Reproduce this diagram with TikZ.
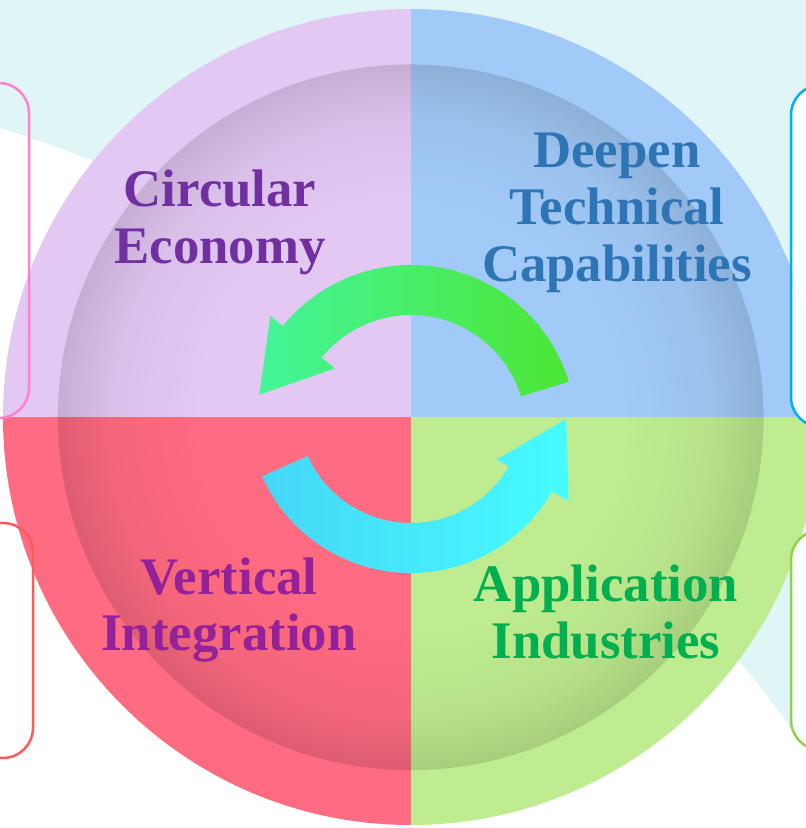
\documentclass[tikz,border=0pt]{standalone}
\usepackage{fontspec}
\setmainfont{Liberation Serif}
\usetikzlibrary{calc,fadings}
\definecolor{bgcyan}{HTML}{E0F5F5}
\definecolor{qpurple}{HTML}{E4C8F4}
\definecolor{qblue}{HTML}{A2CAF8}
\definecolor{qred}{HTML}{FF6B81}
\definecolor{qgreen}{HTML}{BFEC90}
\definecolor{tpurple}{HTML}{7030A0}
\definecolor{tblue}{HTML}{2E75B6}
\definecolor{tmagenta}{HTML}{93219A}
\definecolor{tgreen}{HTML}{00B050}
\definecolor{gL}{HTML}{44F59A}
\definecolor{gR}{HTML}{4CE636}
\definecolor{bL}{HTML}{46D6F8}
\definecolor{bR}{HTML}{46FCFF}
\definecolor{bxpink}{HTML}{FF80D0}
\definecolor{bxred}{HTML}{FF5A5A}
\definecolor{bxblue}{HTML}{00B0F0}
\definecolor{bxgreen}{HTML}{92D050}
\pgfdeclareradialshading{vigshade}{\pgfpointorigin}{color(0bp)=(black); color(15bp)=(black); color(21bp)=(black!96!white); color(25bp)=(black!87!white); color(50bp)=(black!87!white)}
\pgfdeclarefading{vignette}{\pgfuseshading{vigshade}}
\begin{document}
\begin{tikzpicture}[x=1bp,y=1bp,
  qtext/.style={font=\fontsize{53}{57}\selectfont\bfseries, align=center, inner sep=0pt},
  sidebox/.style={line width=2.5bp, rounded corners=30bp}]
\useasboundingbox (0,0) rectangle (806,828);
\clip (0,0) rectangle (806,828);
\fill[white] (0,0) rectangle (806,828);
\fill[bgcyan] (0,828) -- (806,828) -- (806,80) .. controls (560,420) and (260,620) .. (0,700) -- cycle;
\coordinate (C) at (411,411);
\begin{scope}
  \clip (C) circle[radius=408bp];
  \fill[qpurple] (C) rectangle (0,828);
  \fill[qblue] (C) rectangle (828,828);
  \fill[qred] (C) rectangle (0,0);
  \fill[qgreen] (C) rectangle (828,0);
\end{scope}
\fill[black, path fading=vignette] (C) circle[radius=353bp];
% green arrow
\coordinate (Cg) at (411,398);
\shade[left color=gL, right color=gR]
  ($(Cg)+(17:165)$) arc[start angle=17, end angle=141, radius=165bp]
  -- ($(Cg)+(141:181)$) -- ($(Cg)+(141:140)+(231:68)$) -- ($(Cg)+(141:98)$)
  -- ($(Cg)+(141:115)$) arc[start angle=141, end angle=17, radius=115bp] -- cycle;
% blue arrow
\coordinate (Cb) at (411,418);
\shade[left color=bL, right color=bR]
  ($(Cb)+(204:163)$) arc[start angle=204, end angle=330, radius=163bp]
  -- ($(Cb)+(330:182)$) -- ($(Cb)+(330:139)+(60:70)$) -- ($(Cb)+(330:99)$)
  -- ($(Cb)+(330:113)$) arc[start angle=330, end angle=204, radius=113bp] -- cycle;
% texts
\node[qtext, text=tpurple] (ce) at (220,606) {Circular\\Economy};
\node[qtext, text=tblue] (dt) at (617,615) {Deepen\\Technical\\Capabilities};
\node[qtext, text=tmagenta] (vi) at (229,218) {Vertical\\Integration};
\node[qtext, text=tgreen] (ai) at (606,216) {Application\\Industries};
% side boxes
\draw[sidebox, draw=bxpink] (-40,410) rectangle (29,745);
\draw[sidebox, draw=bxred] (-40,70) rectangle (33,305);
\draw[sidebox, draw=bxblue, fill=white, fill opacity=0.92] (791,401) rectangle (850,743);
\draw[sidebox, draw=bxgreen, fill=white, fill opacity=0.92] (791,78) rectangle (850,298);
\end{tikzpicture}
\end{document}
